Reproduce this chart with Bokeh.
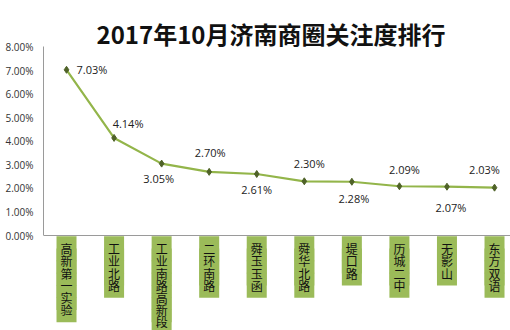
from bokeh.plotting import figure
from bokeh.models import ColumnDataSource, FixedTicker, NumeralTickFormatter, Span, Range1d
from bokeh.core.properties import value
from bokeh.embed import file_html
from bokeh.resources import INLINE

# ---- data ----
categories = ["高新第一实验", "工业北路", "工业南路高新段", "二环南路", "舜玉玉函",
              "舜华北路", "堤口路", "历城二中", "无影山", "东方双语"]
shares = [0.0703, 0.0414, 0.0305, 0.0270, 0.0261, 0.0230, 0.0228, 0.0209, 0.0207, 0.0203]
y_ticks = [0.0, 0.01, 0.02, 0.03, 0.04, 0.05, 0.06, 0.07, 0.08]
title_text = "2017年10月济南商圈关注度排行"

# label placement (style, pixels; positive dy = downwards)
label_dx = [10, 14, -3, 1, 0, 5, 2, 5, 4, -10]
label_dy = [0, -14, 15, -19, 16, -18, 17, -17, 21, -18]
char_step = 12.2   # px between stacked characters
char_first = 8     # px from the anchor to the first character's centre

idx = list(range(len(categories)))
src = ColumnDataSource(dict(
    x=idx, y=shares,
    lab=["{:.2f}%".format(v * 100) for v in shares],
    dx=label_dx, dy=label_dy,
    align=["left"] + ["center"] * (len(shares) - 1),
))

cx, cy, ct, coff = [], [], [], []
for i, c in enumerate(categories):
    for j, ch in enumerate(c):
        cx.append(i)
        cy.append(-0.0022)
        ct.append(ch)
        coff.append(char_first + j * char_step)
cat_src = ColumnDataSource(dict(x=cx, y=cy, t=ct, off=coff))

p = figure(width=510, height=330, output_backend="svg", toolbar_location=None,
           x_range=Range1d(-0.484, 9.336), y_range=Range1d(-0.0403, 0.0997),
           min_border_left=43, min_border_right=0, min_border_top=0, min_border_bottom=0)
p.xaxis.visible = False
p.grid.visible = False
p.outline_line_color = None
p.background_fill_color = "white"

yax = p.yaxis[0]
yax.ticker = FixedTicker(ticks=y_ticks)
yax.formatter = NumeralTickFormatter(format="0.00%")
yax.bounds = (0, 0.08)
yax.axis_line_color = "#9a9a9a"
yax.major_tick_line_color = None
yax.minor_tick_line_color = None
yax.major_tick_out = 0
yax.major_tick_in = 0
yax.major_label_standoff = 10
yax.major_label_text_font = "Open Sans"
yax.major_label_text_font_size = "10px"
yax.major_label_text_color = "#333333"

p.add_layout(Span(location=0, dimension="width", line_color="#9a9a9a", line_width=1))

p.line("x", "y", source=src, line_color="#93B54A", line_width=2.2)
p.scatter("x", "y", source=src, marker="diamond", size=7, fill_color="#4F6228", line_color="#4F6228")

p.text("x", "y", text="lab", source=src, x_offset="dx", y_offset="dy",
       text_align="align", text_baseline="middle",
       text_font=value("Open Sans"), text_font_size="11px", text_color="#222222")

# category labels: background pass, then the characters
p.text("x", "y", text="t", source=cat_src, y_offset="off", text_align="center",
       text_baseline="middle", text_font=value("Noto Sans CJK SC"), text_font_size="12px",
       text_alpha=0, background_fill_color="#9BBB59", padding=4)
p.text("x", "y", text="t", source=cat_src, y_offset="off", text_align="center",
       text_baseline="middle", text_font=value("Noto Sans CJK SC"), text_font_size="12px",
       text_color="#111111")

p.text(x=[4.3], y=[0.0855], text=[title_text], text_align="center", text_baseline="middle",
       text_font=value("Noto Sans CJK SC"), text_font_size="24px", text_font_style="bold",
       text_color="#111111")

open("out.html", "w").write(file_html(p, INLINE))
